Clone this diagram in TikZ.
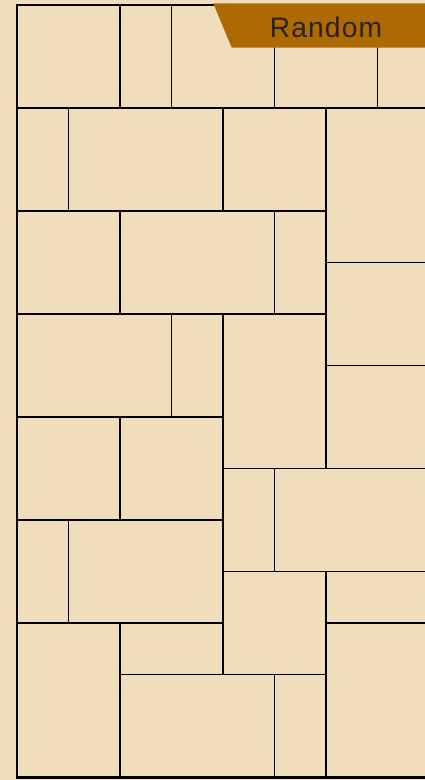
\documentclass[tikz,border=0pt]{standalone}
\usepackage{fontspec}
\newfontfamily\tagfont[LetterSpace=4]{Liberation Sans}
\definecolor{sabbia}{RGB}{239,221,187}
\definecolor{cuoio}{RGB}{173,106,3}
\definecolor{inchiostro}{RGB}{43,34,25}
\tikzset{
  mattone/.style={draw=black,line width=0.8pt},
  cornice/.style={draw=black,line width=1.4pt},
  etichetta/.style={fill=cuoio,draw=none}
}
\begin{document}
\begin{tikzpicture}[x=1cm,y=-1cm]
            % Sfondo
            \useasboundingbox (-0.33,-0.097) rectangle (7.922,15.049);
            \fill[sabbia] (-0.33,-0.097) rectangle (7.922,15.049);
            \clip (-0.33,-0.097) rectangle (7.922,15.049);
            % Mattoni
            \foreach \xa/\ya/\xb/\yb in {0/0/2/2, 2/0/3/2, 3/0/5/2, 5/0/7/2, 7/0/9/2,
                0/2/1/4, 1/2/4/4, 4/2/6/4, 6/2/9/5, 6/5/9/7, 6/7/9/9,
                0/4/2/6, 2/4/5/6, 5/4/6/6,
                0/6/3/8, 3/6/4/8, 4/6/6/9,
                0/8/2/10, 2/8/4/10, 4/9/5/11, 5/9/9/11,
                0/10/1/12, 1/10/4/12, 4/11/6/13, 6/11/9/12, 6/12/9/15,
                0/12/2/15, 2/12/4/13, 2/13/5/15, 5/13/6/15}
                \draw[mattone] (\xa,\ya) rectangle (\xb,\yb);
            % Cornice
            \draw[cornice] (0,0) rectangle (9,15);
            % Etichetta
            \fill[etichetta] (3.81,-0.033) -- (4.17,0.83) -- (8.5,0.83) -- (8.5,-0.033) -- cycle;
            \node[anchor=base,inner sep=0pt,text=inchiostro,font=\tagfont\fontsize{15.6}{18}\selectfont] (tag) at (6,0.635) {Random};
        \end{tikzpicture}
\end{document}
